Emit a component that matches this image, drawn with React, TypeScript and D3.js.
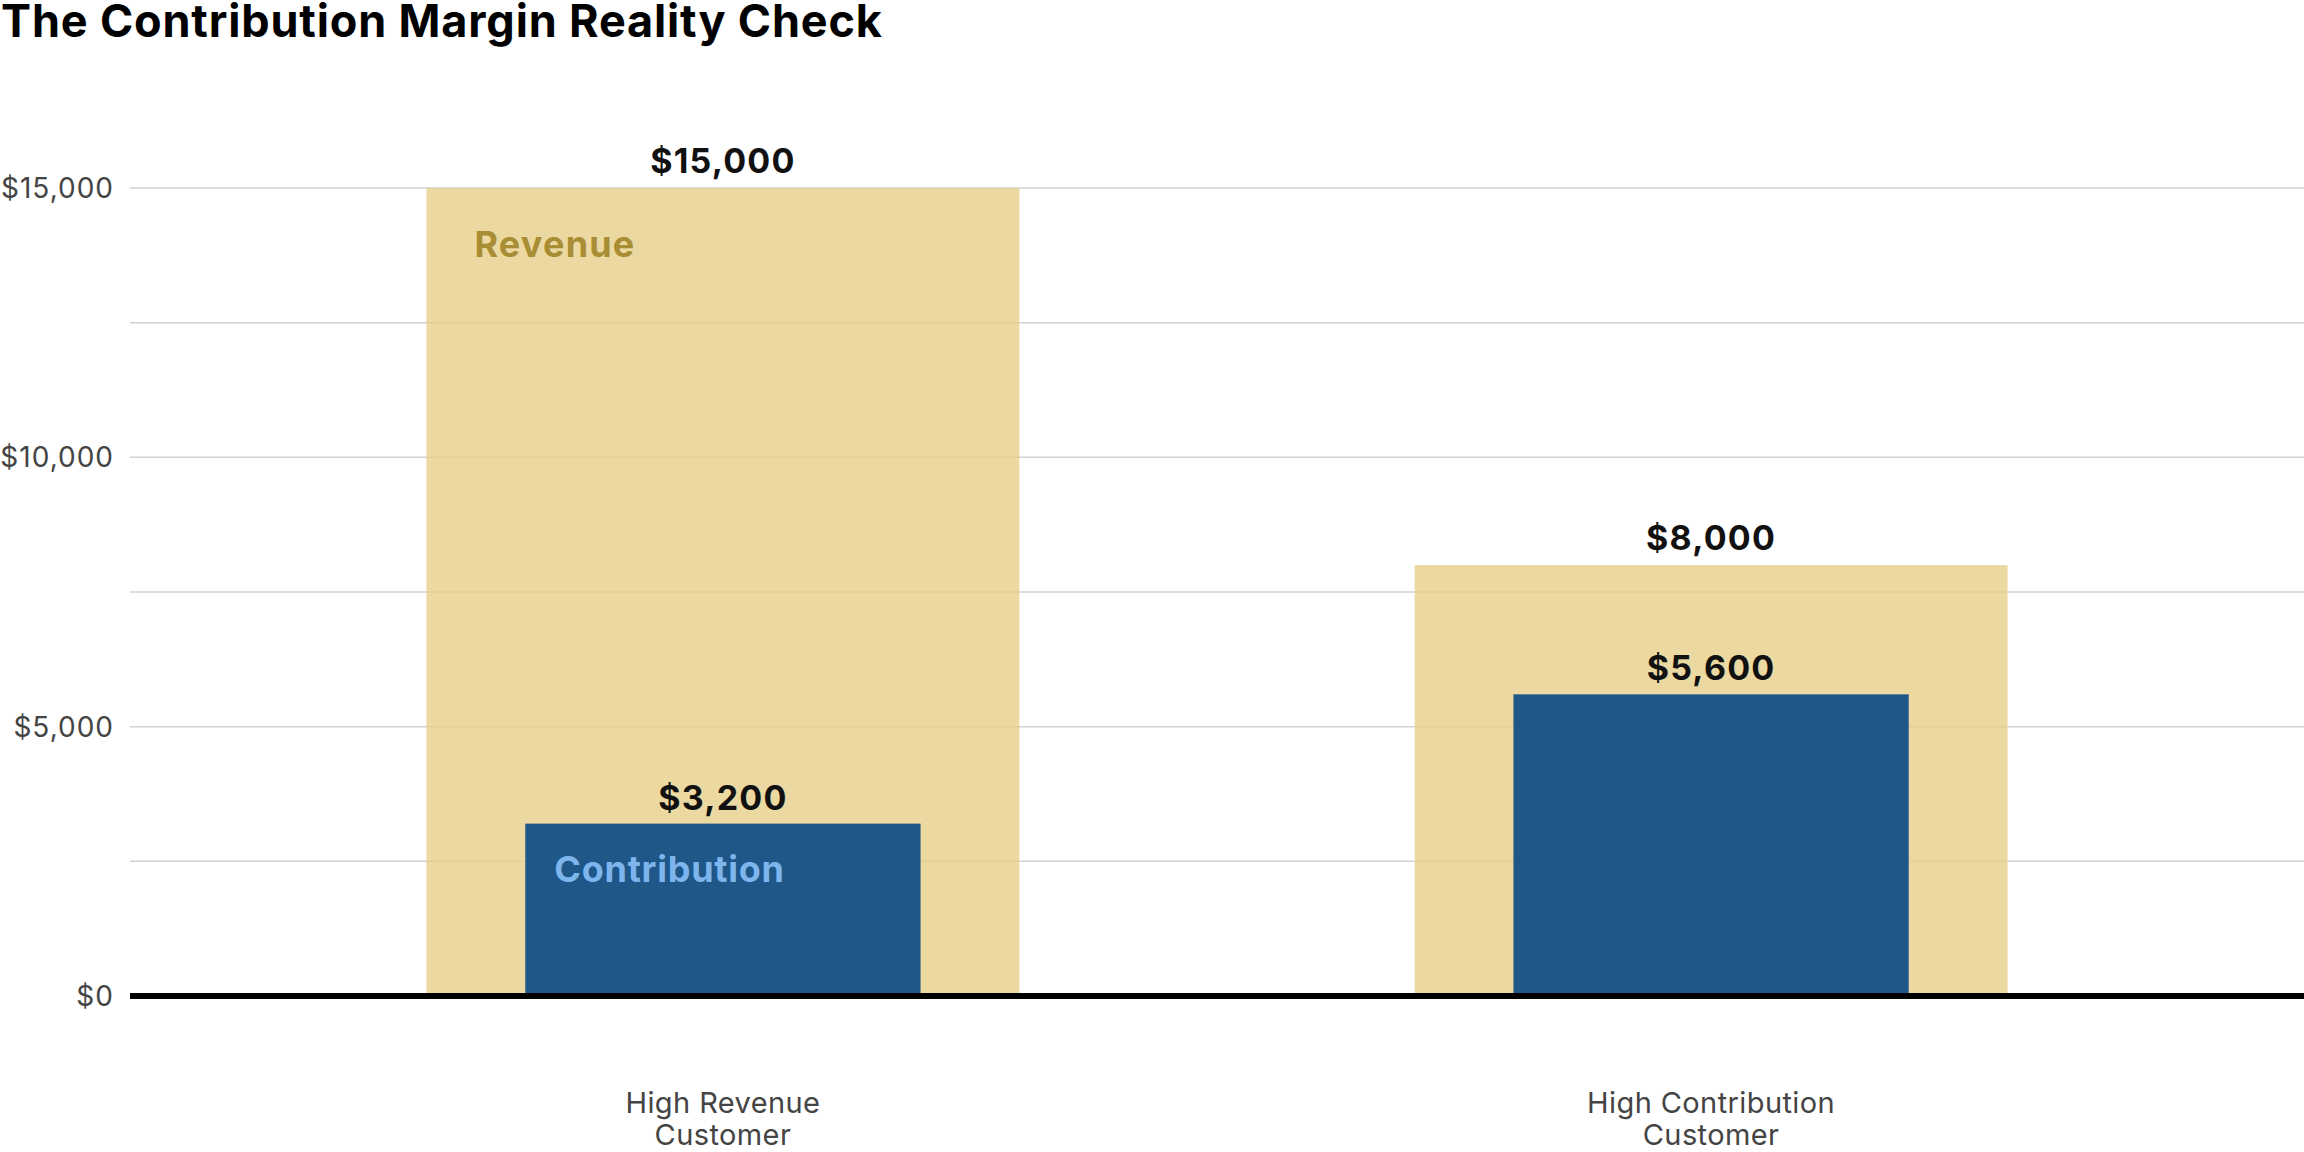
import * as d3 from 'd3'

const categories = ['High Revenue Customer', 'High Contribution Customer']
const categoryLines = [
  ['High Revenue', 'Customer'],
  ['High Contribution', 'Customer']
]
const revenue = [15000, 8000]
const contribution = [3200, 5600]
const yTicks = [0, 2500, 5000, 7500, 10000, 12500, 15000]
const labeledTicks = [0, 5000, 10000, 15000]

const width = 2304
const height = 1152
const margin = { left: 130, right: 0, top: 188, bottom: 156 }

const fmt = (v: number) => '$' + d3.format(',')(v)

export default function App() {
  const x = d3
    .scaleBand<string>()
    .domain(categories)
    .range([margin.left, width - margin.right])
    .paddingInner(0.2)
    .paddingOuter(0.2)

  const y = d3
    .scaleLinear()
    .domain([0, 15000])
    .range([height - margin.bottom, margin.top])

  const bw = x.bandwidth()
  const revW = bw * 0.75
  const conW = bw * 0.5
  const font = 'Inter, "Noto Sans", sans-serif'

  return (
    <div style={{ position: 'fixed', left: 0, top: 0 }}>
      <svg width={width} height={height} style={{ display: 'block', background: '#fff' }}>
        <text
          x={1}
          y={37}
          fontFamily={font}
          fontWeight={700}
          fontSize={45}
          letterSpacing={0.85}
          fill="#000"
        >
          The Contribution Margin Reality Check
        </text>

        {/* grid */}
        {yTicks.map(t => (
          <line
            key={t}
            x1={margin.left}
            x2={width - margin.right}
            y1={y(t)}
            y2={y(t)}
            stroke="#d2d2d2"
            strokeWidth={1.5}
          />
        ))}
        {labeledTicks.map(t => (
          <text
            key={'l' + t}
            x={114}
            y={y(t)}
            dy="0.36em"
            textAnchor="end"
            fontFamily={font}
            fontSize={28}
            letterSpacing={1}
            fill="#444"
          >
            {fmt(t)}
          </text>
        ))}

        {categories.map((c, i) => {
          const cx = (x(c) ?? 0) + bw / 2
          return (
            <g key={c}>
              <rect
                x={cx - revW / 2}
                y={y(revenue[i])}
                width={revW}
                height={y(0) - y(revenue[i])}
                fill="#E6CF8A"
                fillOpacity={0.8}
              />
              <rect
                x={cx - conW / 2}
                y={y(contribution[i])}
                width={conW}
                height={y(0) - y(contribution[i])}
                fill="#1E5788"
              />
              <text
                x={cx}
                y={y(revenue[i]) - 15}
                textAnchor="middle"
                fontFamily={font}
                fontWeight={700}
                fontSize={34}
                letterSpacing={1.2}
                fill="#111"
              >
                {fmt(revenue[i])}
              </text>
              <text
                x={cx}
                y={y(contribution[i]) - 14}
                textAnchor="middle"
                fontFamily={font}
                fontWeight={700}
                fontSize={34}
                letterSpacing={1.2}
                fill="#111"
              >
                {fmt(contribution[i])}
              </text>
              {categoryLines[i].map((line, j) => (
                <text
                  key={line}
                  x={cx}
                  y={1113 + j * 32}
                  textAnchor="middle"
                  fontFamily={font}
                  fontSize={29}
                  letterSpacing={0.4}
                  fill="#444"
                >
                  {line}
                </text>
              ))}
              {i === 0 && (
                <>
                  <text
                    x={cx - revW / 2 + 48}
                    y={y(revenue[i]) + 69}
                    fontFamily={font}
                    fontWeight={700}
                    fontSize={36}
                    letterSpacing={1.2}
                    fill="#A88D34"
                  >
                    Revenue
                  </text>
                  <text
                    x={cx - conW / 2 + 29}
                    y={y(contribution[i]) + 58}
                    fontFamily={font}
                    fontWeight={700}
                    fontSize={36}
                    letterSpacing={0.75}
                    fill="#7DB5EC"
                  >
                    Contribution
                  </text>
                </>
              )}
            </g>
          )
        })}

        <line
          x1={margin.left}
          x2={width - margin.right}
          y1={y(0)}
          y2={y(0)}
          stroke="#000"
          strokeWidth={6}
        />
      </svg>
    </div>
  )
}
